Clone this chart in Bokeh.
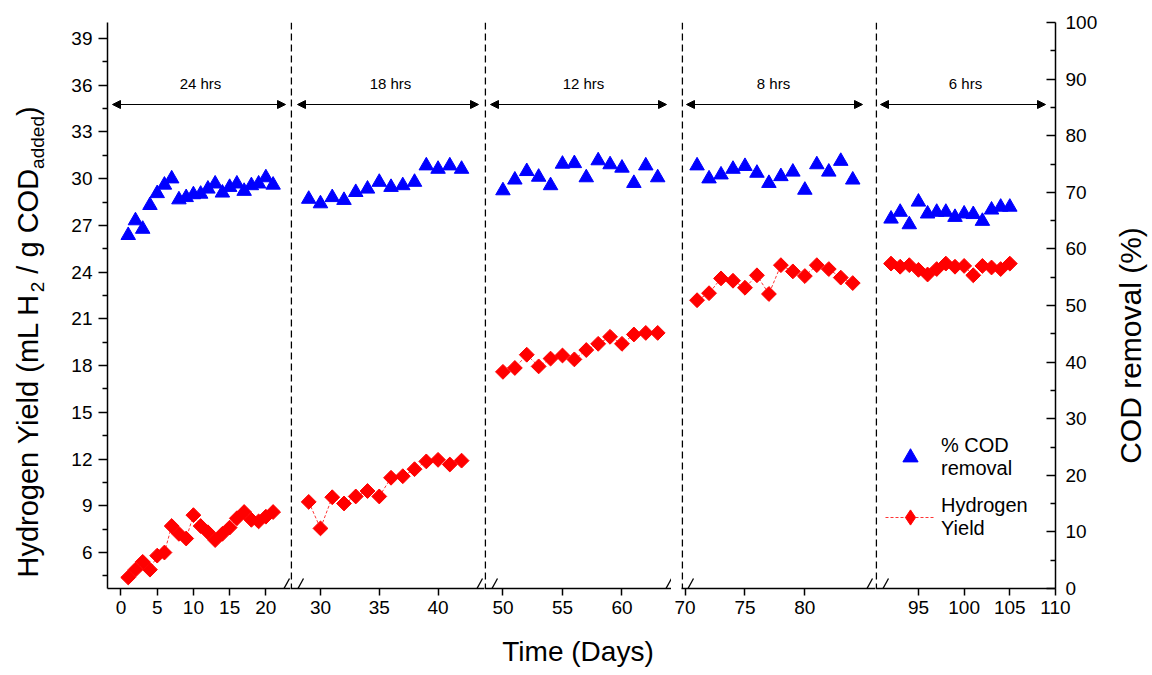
import math
from bokeh.plotting import figure
from bokeh.layouts import row
from bokeh.models import (Range1d, FixedTicker, Span, Arrow, NormalHead, Label,
                          Legend, LegendItem, ColumnDataSource, LinearAxis)
from bokeh.embed import file_html
from bokeh.resources import INLINE

FONT = "Liberation Sans"

# ---------------- data ----------------
hrt_labels = ["24 hrs", "18 hrs", "12 hrs", "8 hrs", "6 hrs"]

days_24 = [1, 2, 3, 4, 5, 6, 7, 8, 9, 10, 11, 12, 13, 14, 15, 16, 17, 18, 19, 20, 21]
cod_24 = [62.4, 65.0, 63.5, 67.7, 69.8, 71.3, 72.4, 68.7, 69.1, 69.6, 69.7, 70.6, 71.5,
          69.9, 70.9, 71.5, 70.2, 71.2, 71.5, 72.6, 71.3]
h2_24 = [4.4, 4.9, 5.4, 4.9, 5.8, 6.0, 7.7, 7.2, 6.9, 8.4, 7.7, 7.3, 6.8, 7.2, 7.6, 8.2,
         8.6, 8.1, 8.0, 8.3, 8.6]

days_18 = [29, 30, 31, 32, 33, 34, 35, 36, 37, 38, 39, 40, 41, 42]
cod_18 = [68.8, 68.0, 69.1, 68.6, 70.0, 70.6, 71.8, 70.9, 71.2, 71.8, 74.7, 74.1, 74.7, 74.1]
h2_18 = [9.25, 7.55, 9.55, 9.15, 9.6, 9.95, 9.6, 10.8, 10.9, 11.35, 11.85, 11.95, 11.65, 11.9]

days_12 = [50, 51, 52, 53, 54, 55, 56, 57, 58, 59, 60, 61, 62, 63]
cod_12 = [70.3, 72.2, 73.7, 72.7, 71.2, 75.0, 75.1, 72.6, 75.6, 74.9, 74.3, 71.6, 74.7, 72.6]
h2_12 = [17.6, 17.85, 18.7, 17.95, 18.45, 18.65, 18.4, 19.0, 19.4, 19.85, 19.4, 20.0, 20.1, 20.1]

days_8 = [71, 72, 73, 74, 75, 76, 77, 78, 79, 80, 81, 82, 83, 84]
cod_8 = [74.7, 72.4, 73.1, 74.1, 74.6, 73.4, 71.6, 72.8, 73.6, 70.4, 74.9, 73.6, 75.5, 72.2]
h2_8 = [22.2, 22.65, 23.6, 23.45, 23.0, 23.8, 22.6, 24.45, 24.05, 23.75, 24.45, 24.2, 23.65, 23.3]

days_6 = [92, 93, 94, 95, 96, 97, 98, 99, 100, 101, 102, 103, 104, 105]
cod_6 = [65.3, 66.5, 64.3, 68.3, 66.2, 66.5, 66.5, 65.6, 66.2, 66.1, 64.9, 66.9, 67.4, 67.4]
h2_6 = [24.55, 24.35, 24.45, 24.15, 23.85, 24.2, 24.55, 24.35, 24.4, 23.8, 24.4, 24.3, 24.2, 24.55]

x_tick_sets = [[0, 5, 10, 15, 20], [30, 35, 40], [50, 55, 60], [70, 75, 80], [95, 100, 105, 110]]
yield_ticks = [6, 9, 12, 15, 18, 21, 24, 27, 30, 33, 36, 39]
yield_minor = [4.5, 7.5, 10.5, 13.5, 16.5, 19.5, 22.5, 25.5, 28.5, 31.5, 34.5, 37.5]
cod_ticks = [0, 10, 20, 30, 40, 50, 60, 70, 80, 90, 100]
cod_minor = [5, 15, 25, 35, 45, 55, 65, 75, 85, 95]

series = [(days_24, cod_24, h2_24), (days_18, cod_18, h2_18), (days_12, cod_12, h2_12),
          (days_8, cod_8, h2_8), (days_6, cod_6, h2_6)]

# ---------------- layout ----------------
TOP, FRAME_H, BOTTOM = 22, 566, 87
frame_px = [(107, 290), (290, 484), (484, 671), (681, 875), (875, 1055)]
x_ranges = [(-1.86, 23.4), (27.45, 43.95), (48.45, 64.16), (69.7, 85.9), (90.3, 110.0)]
LEFT_STRIP = 60
border_left = [107 - LEFT_STRIP, 0, 0, 10, 0]
border_right = [0, 0, 0, 0, 50]
Y_RANGE = (3.69, 40.03)
arrow_px = [(112, 285), (297, 478), (490, 666), (686, 862), (880, 1045)]
label_px = [200, 390, 583, 773, 965]
slashes = [(0, 278, 289), (1, 292, 303), (1, 471, 482), (2, 486, 497),
           (2, 660, 671), (3, 682, 693), (3, 861, 872), (4, 877, 888)]


def px2x(i, px):
    a, b = frame_px[i]
    s, e = x_ranges[i]
    return s + (px - a) * (e - s) / (b - a)


def px2y(py):
    return Y_RANGE[0] + (TOP + FRAME_H - py) * (Y_RANGE[1] - Y_RANGE[0]) / FRAME_H


def side_strip(x0, x1):
    """Narrow figure whose frame holds a rotated axis title (coords = page pixels)."""
    s = figure(frame_width=x1 - x0, frame_height=FRAME_H,
               x_range=Range1d(x0, x1), y_range=Range1d(TOP + FRAME_H, TOP),
               output_backend="svg", toolbar_location=None,
               min_border_left=0, min_border_right=0, min_border_top=TOP,
               min_border_bottom=BOTTOM, x_axis_location=None, y_axis_location=None)
    s.grid.visible = False
    s.outline_line_color = None
    s.background_fill_color = "white"
    s.border_fill_color = "white"
    return s


# left title strip (rotated, with subscripts)
p0 = side_strip(0, LEFT_STRIP)
big, small = 29, 19
y_start = 577
pieces = [("Hydrogen Yield (mL H", big, y_start, False),
          ("2", small, y_start - 9.836 * big, True),
          ("/ g COD", big, y_start - 9.836 * big - 0.556 * small - 0.278 * big, False),
          ("added", small, y_start - 9.836 * big - 0.556 * small - 3.89 * big, True),
          (")", big, y_start - 9.836 * big - 0.556 * small - 3.89 * big - 2.78 * small, False)]
for txt, fs, py, sub in pieces:
    p0.add_layout(Label(x=37 if sub else 27, y=py, text=txt, angle=math.pi / 2,
                        text_align="left", text_baseline="middle",
                        text_font=FONT, text_font_size=f"{fs}px", text_color="black"))

# right title strip
p6 = side_strip(1105, 1152)
p6.add_layout(Label(x=1130, y=345, text="COD removal (%)", angle=math.pi / 2,
                    text_align="center", text_baseline="middle", text_font=FONT,
                    text_font_size="30px", text_color="black"))

figs = [p0]
for i in range(5):
    a, b = frame_px[i]
    p = figure(frame_width=b - a, frame_height=FRAME_H,
               x_range=Range1d(*x_ranges[i]), y_range=Range1d(*Y_RANGE),
               output_backend="svg", toolbar_location=None,
               min_border_left=border_left[i], min_border_right=border_right[i],
               min_border_top=TOP, min_border_bottom=BOTTOM,
               x_axis_location="below", y_axis_location="left" if i == 0 else None)
    p.extra_y_ranges = {"cod": Range1d(0, 100)}
    p.grid.visible = False
    p.outline_line_color = None
    p.background_fill_color = "white"
    p.border_fill_color = "white"

    xa = p.xaxis[0]
    xa.ticker = FixedTicker(ticks=x_tick_sets[i], minor_ticks=[])
    xa.axis_line_width = 1.5
    xa.major_tick_line_width = 1.5
    xa.major_tick_out = 7
    xa.major_tick_in = 0
    xa.minor_tick_out = 0
    xa.major_label_standoff = 5
    xa.major_label_text_font = FONT
    xa.major_label_text_font_size = "19px"
    xa.major_label_text_color = "black"
    if i == 2:
        xa.axis_label = "Time (Days)"
        xa.axis_label_text_font = FONT
        xa.axis_label_text_font_size = "28px"
        xa.axis_label_text_font_style = "normal"
        xa.axis_label_text_color = "black"
        xa.axis_label_standoff = 19

    if i == 0:
        ya = p.yaxis[0]
        ya.ticker = FixedTicker(ticks=yield_ticks, minor_ticks=yield_minor)
        ya.axis_line_width = 1.5
        ya.major_tick_line_width = 1.5
        ya.minor_tick_line_width = 1.5
        ya.major_tick_out = 9
        ya.major_tick_in = 0
        ya.minor_tick_out = 5
        ya.minor_tick_in = 0
        ya.major_label_standoff = 6
        ya.major_label_text_font = FONT
        ya.major_label_text_font_size = "19px"
        ya.major_label_text_color = "black"

    if i == 4:
        ra = LinearAxis(y_range_name="cod")
        ra.ticker = FixedTicker(ticks=cod_ticks, minor_ticks=cod_minor)
        ra.axis_line_width = 1.5
        ra.major_tick_line_width = 1.5
        ra.minor_tick_line_width = 1.5
        ra.major_tick_in = 9
        ra.major_tick_out = 0
        ra.minor_tick_in = 5
        ra.minor_tick_out = 0
        ra.major_label_standoff = 10
        ra.major_label_text_font = FONT
        ra.major_label_text_font_size = "19px"
        ra.major_label_text_color = "black"
        p.add_layout(ra, "right")

    days, cod, h2 = series[i]
    src = ColumnDataSource(dict(day=days, cod=cod, h2=h2))
    ln = p.line("day", "h2", source=src, line_color="#FF0000", line_width=0.8, line_dash="3 2")
    dia = p.scatter("day", "h2", source=src, marker="square", angle=math.pi / 4, size=10.5,
                    fill_color="#FF0000", line_color="#FF0000", line_width=1)
    tri = p.scatter("day", "cod", source=src, y_range_name="cod", marker="triangle", size=14.5,
                    fill_color="#0000FF", line_color="#0000FF", line_width=1)

    # HRT arrows and labels
    xs, xe = arrow_px[i]
    ya_px = px2y(104)
    p.add_layout(Arrow(x_start=px2x(i, xs), y_start=ya_px, x_end=px2x(i, xe), y_end=ya_px,
                       start=NormalHead(size=8, fill_color="black", line_color="black", line_width=1),
                       end=NormalHead(size=8, fill_color="black", line_color="black", line_width=1),
                       line_color="black", line_width=1))
    p.add_layout(Label(x=px2x(i, label_px[i]), y=px2y(83), text=hrt_labels[i],
                       text_align="center", text_baseline="middle", text_font=FONT,
                       text_font_size="15px", text_color="black"))

    if i > 0:
        p.add_layout(Span(location=px2x(i, a + 0.8), dimension="height", line_color="black",
                          line_width=1.5, line_dash="7 4"))

    if i == 4:
        # legend key only: an unplotted (NaN) point so the key shows an upright diamond
        key_dia = p.scatter(x=[float("nan")], y=[float("nan")], marker="diamond", size=18,
                            fill_color="#FF0000", line_color="#FF0000")
        legend = Legend(items=[LegendItem(label="% COD\nremoval", renderers=[tri]),
                               LegendItem(label="Hydrogen\nYield", renderers=[ln, key_dia])],
                        location=(10, 48), border_line_color=None, background_fill_alpha=0,
                        label_text_font=FONT, label_text_font_size="20px",
                        label_text_color="black",
                        glyph_width=50, glyph_height=38, spacing=14, padding=0, margin=0,
                        label_standoff=6)
        p.add_layout(legend)

    figs.append(p)

for i, s_px, e_px in slashes:
    figs[i + 1].add_layout(Arrow(x_start=px2x(i, s_px), y_start=px2y(598), x_end=px2x(i, e_px),
                                 y_end=px2y(578), start=None, end=None, line_color="black",
                                 line_width=1.3))

figs.append(p6)
layout = row(*figs, spacing=0)
open("out.html", "w").write(file_html(layout, INLINE, "Hydrogen yield and COD removal"))
